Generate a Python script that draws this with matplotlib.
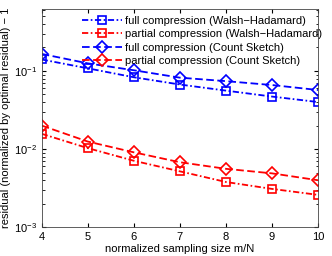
import matplotlib
matplotlib.use("Agg")
import matplotlib.pyplot as plt

plt.rcParams['font.family'] = ['Liberation Sans', 'DejaVu Sans']
plt.rcParams['mathtext.fontset'] = 'custom'
plt.rcParams['mathtext.rm'] = 'Liberation Sans'
plt.rcParams['lines.scale_dashes'] = False

# sampling sizes and residuals
m_over_n = [4, 5, 6, 7, 8, 9, 10]
full_wh = [0.14, 0.108, 0.083, 0.067, 0.056, 0.047, 0.040]
partial_wh = [0.0157, 0.0103, 0.0071, 0.0052, 0.0038, 0.0031, 0.0026]
full_cs = [0.165, 0.125, 0.102, 0.082, 0.074, 0.066, 0.057]
partial_cs = [0.020, 0.0125, 0.0091, 0.0068, 0.0056, 0.0049, 0.0040]

dashdot = (0, (4.5, 1.8, 1.2, 1.8))
dashed = (0, (5.5, 2.5))

fig = plt.figure(figsize=(3.32, 2.56), dpi=100)
ax = fig.add_axes([0.1256, 0.112, 0.8324, 0.853])

style = dict(mfc='none', lw=1.3, mew=1.2)
ax.semilogy(m_over_n, full_wh, color='b', ls=dashdot, marker='s', ms=6, **style,
            label='full compression (Walsh\u2212Hadamard)')
ax.semilogy(m_over_n, partial_wh, color='r', ls=dashdot, marker='s', ms=6, **style,
            label='partial compression (Walsh\u2212Hadamard)')
ax.semilogy(m_over_n, full_cs, color='b', ls=dashed, marker='D', ms=6.5, **style,
            label='full compression (Count Sketch)')
ax.semilogy(m_over_n, partial_cs, color='r', ls=dashed, marker='D', ms=6.5, **style,
            label='partial compression (Count Sketch)')

ax.set_xlim(4, 10)
ax.set_ylim(1e-3, 0.62)
ax.set_xticks(m_over_n)
ax.tick_params(direction='in', which='both', top=True, right=True, labelsize=8)
ax.tick_params(which='major', length=3)
ax.tick_params(which='minor', length=1.8)
for s in ax.spines.values():
    s.set_linewidth(0.6)
    s.set_color('#444444')

ax.set_xlabel('normalized sampling size m/N', fontsize=8, labelpad=1)
ax.set_ylabel('residual (normalized by optimal residual) \u2212 1', fontsize=8, labelpad=2)

ax.legend(loc='upper left', frameon=False, fontsize=8, handlelength=3.6,
          handletextpad=0.3, labelspacing=0.3, borderpad=0, borderaxespad=0,
          bbox_to_anchor=(82 / 332, 1 - 16 / 256), bbox_transform=fig.transFigure)

fig.savefig('out.png', dpi=100)
